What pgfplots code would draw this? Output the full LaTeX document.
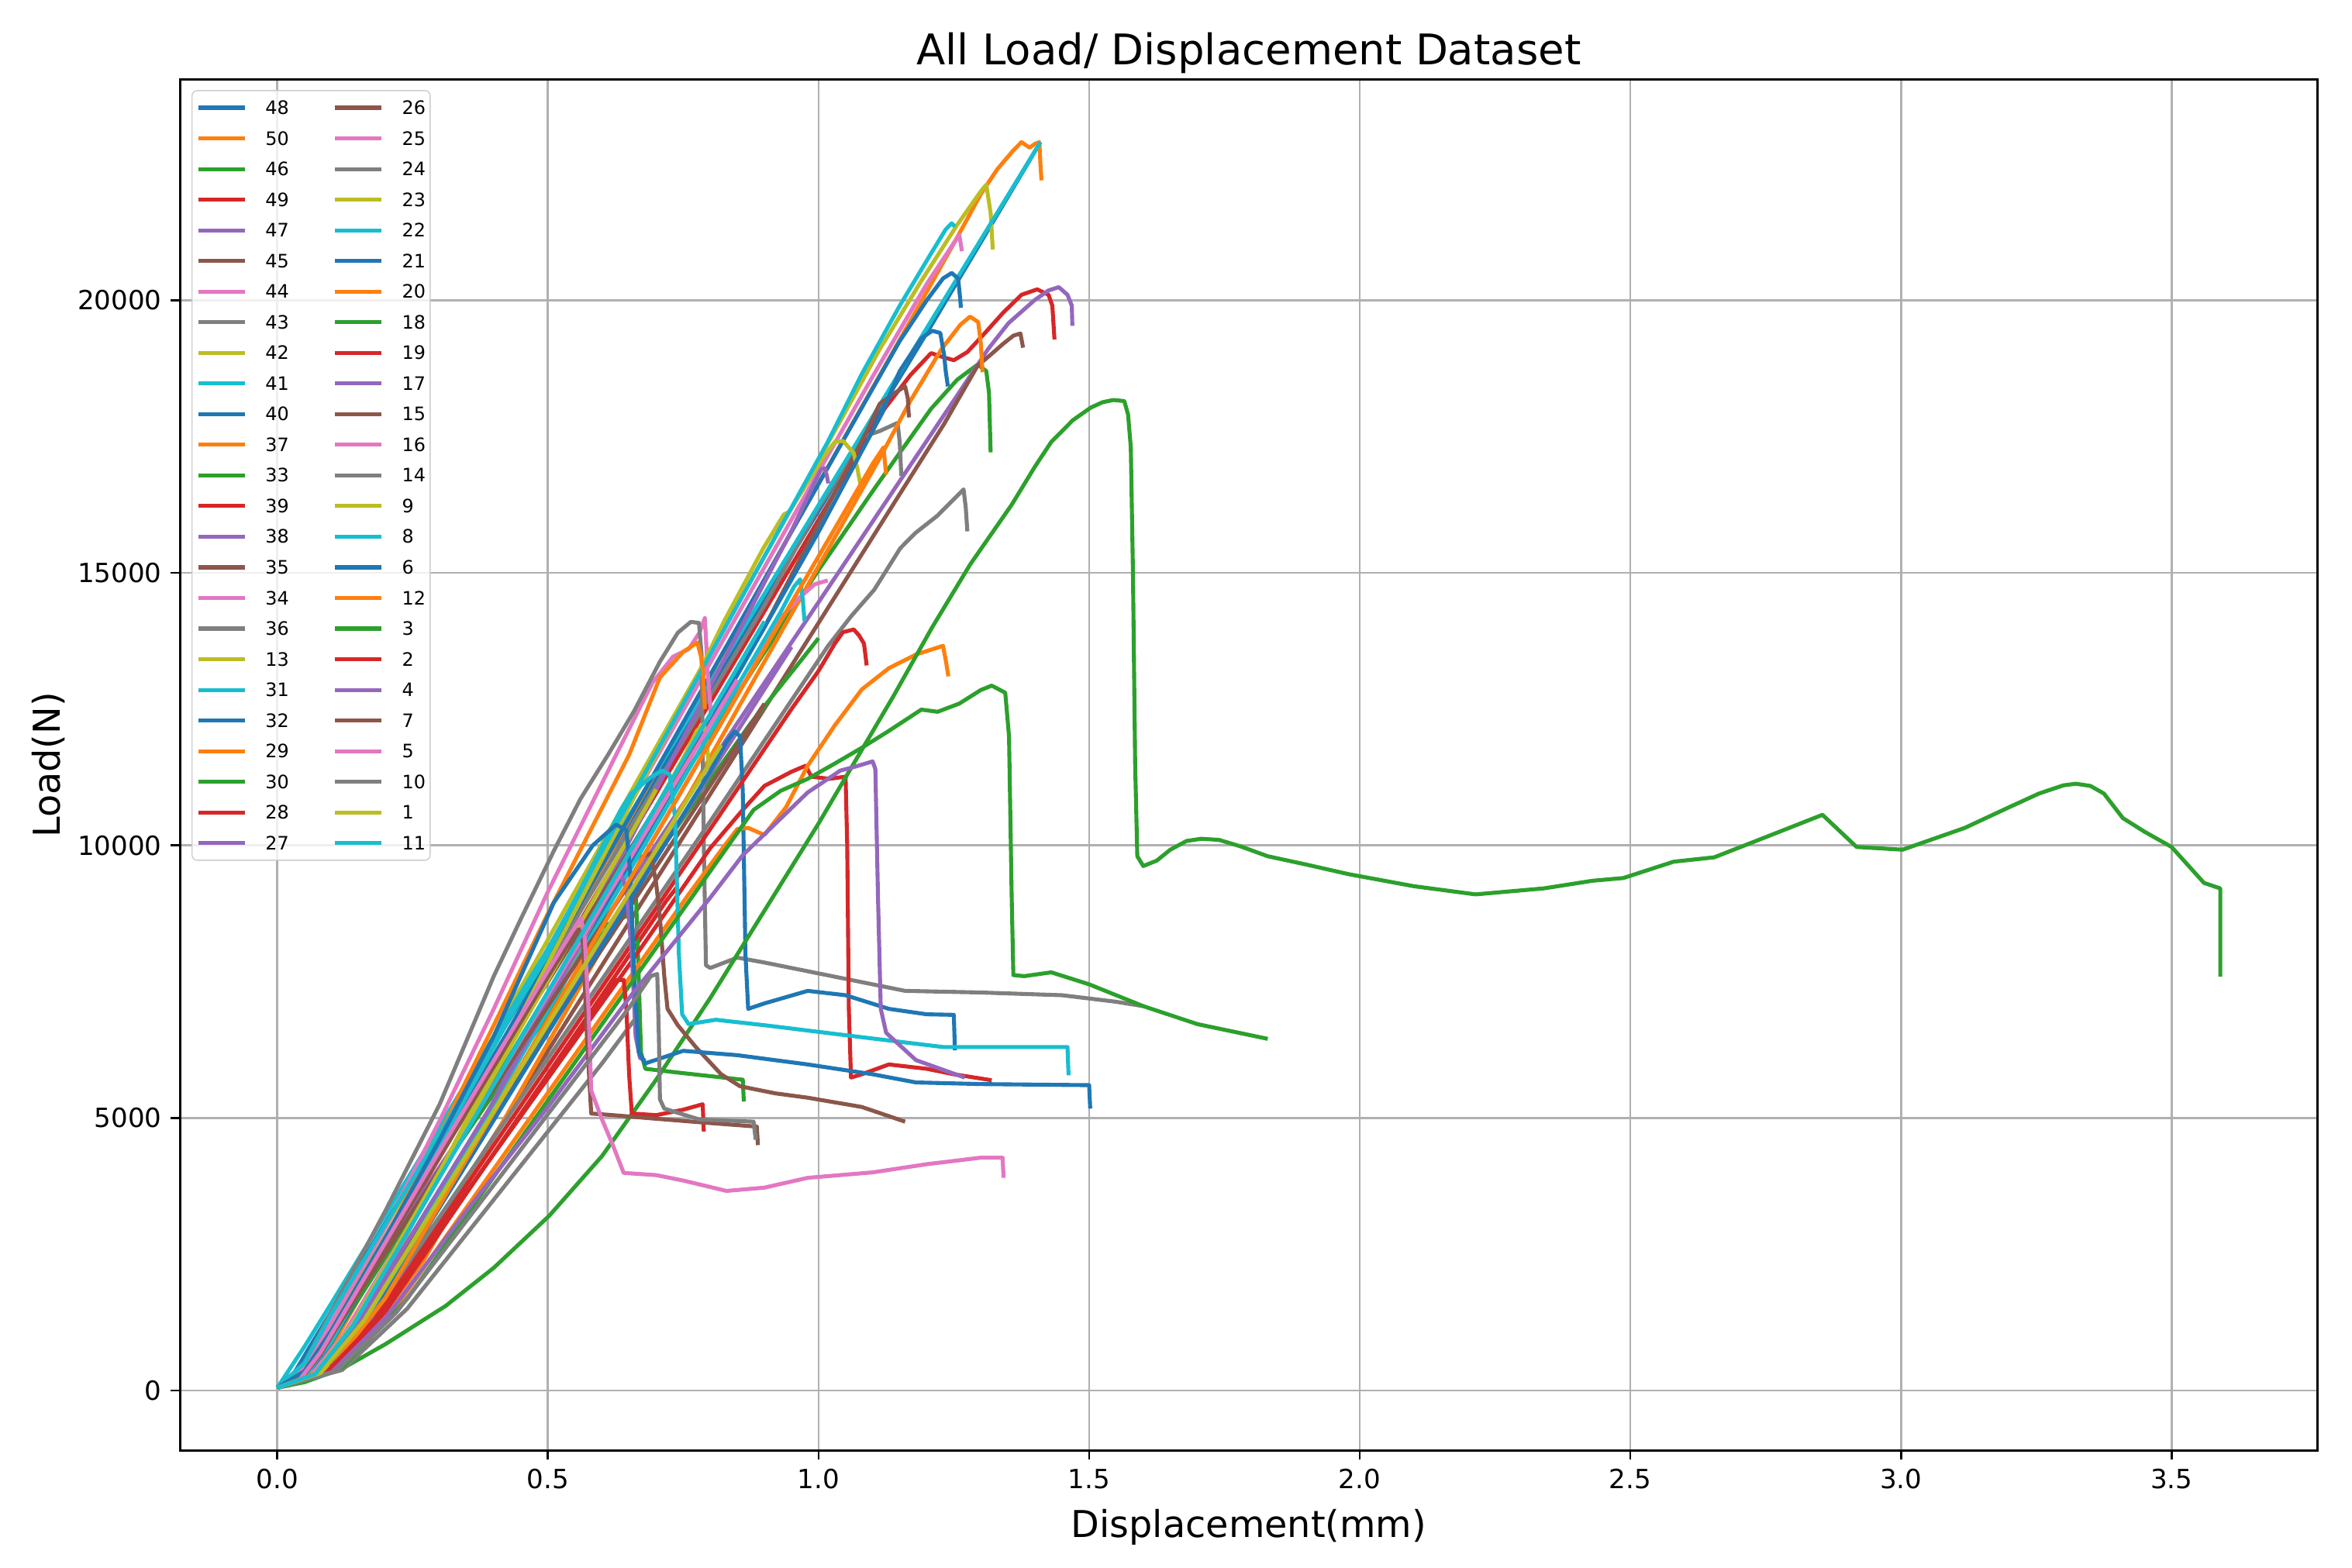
\documentclass[border=0pt]{standalone}
\usepackage{fontspec}
\setmainfont{DejaVu Sans}
\usepackage{pgfplots}
\pgfplotsset{compat=1.18}
\definecolor{tblue}{HTML}{1F77B4}
\definecolor{torange}{HTML}{FF7F0E}
\definecolor{tgreen}{HTML}{2CA02C}
\definecolor{tred}{HTML}{D62728}
\definecolor{tpurple}{HTML}{9467BD}
\definecolor{tbrown}{HTML}{8C564B}
\definecolor{tpink}{HTML}{E377C2}
\definecolor{tgray}{HTML}{7F7F7F}
\definecolor{tolive}{HTML}{BCBD22}
\definecolor{tcyan}{HTML}{17BECF}
\definecolor{gridgray}{HTML}{B0B0B0}
\definecolor{legframe}{HTML}{CCCCCC}
\newcommand{\LE}[2]{\addlegendimage{#1}\addlegendentry{#2}}
\begin{document}
\begin{tikzpicture}
\begin{axis}[
    width=809pt, height=519pt, scale only axis,
    xmin=-0.1795, xmax=3.7695, ymin=-1100, ymax=24050,
    xtick={0,0.5,1,1.5,2,2.5,3,3.5},
    xticklabels={0.0,0.5,1.0,1.5,2.0,2.5,3.0,3.5},
    ytick={0,5000,10000,15000,20000},
    yticklabels={0,5000,10000,15000,20000},
    scaled y ticks=false,
    tick label style={font=\fontsize{10}{12}\selectfont},
    grid=major, grid style={color=gridgray, line width=0.8pt},
    axis line style={line width=0.8pt},
    tick style={line width=0.8pt, black},
    major tick length=3.5pt, tick align=outside, tick pos=left,
    title={All Load/ Displacement Dataset},
    title style={font=\fontsize{16}{19}\selectfont, at={(axis description cs:0.5,1)}, anchor=base, yshift=-0.4pt},
    xlabel={Displacement(mm)},
    xlabel style={font=\fontsize{14}{17}\selectfont, at={(axis description cs:0.5,0)}, anchor=base, yshift=-33pt},
    ylabel={Load(N)},
    ylabel style={font=\fontsize{14}{17}\selectfont, at={(axis description cs:-0.0561,0.5)}, anchor=base},
    every axis plot/.append style={line width=1.5pt, line join=round},
    legend columns=2,
    legend cell align=left,
    legend image code/.code={\draw[#1, line width=1.5pt] (0pt,0pt) -- (17.6pt,0pt);},
    legend style={at={(axis description cs:0,1)}, anchor=north west, xshift=4.3pt, yshift=-4pt,
        font=\fontsize{7}{8}\selectfont, draw=legframe, rounded corners=2pt,
        fill=white, fill opacity=0.8, text opacity=1, draw opacity=1,
        inner xsep=1.7pt, inner ysep=4pt, row sep=6.6pt,
        nodes={inner sep=0pt, text height=5pt, text depth=0pt},
        /tikz/every odd column/.append style={column sep=7pt},
        /tikz/every even column/.append style={column sep=16.7pt}},
]
% 48
\addplot[forget plot, tblue] coordinates {(0,50)(0.03,300)(0.06,800)(0.3,4700)(0.6,9600)(0.9,14500)(1.2,19400)(1.41,22900)};
% 50
\addplot[forget plot, torange] coordinates {(0,50)(0.055,240)(0.11,970)(0.3,4310)(0.5,7830)(0.7,11350)(0.9,14870)(1.065,17780)(1.127,18870)(1.189,19960)(1.256,21150)(1.3,21950)(1.33,22400)(1.36,22750)(1.375,22900)(1.39,22800)(1.4,22870)(1.408,22900)(1.41,22500)(1.412,22200)};
% 46
\addplot[forget plot, tgreen] coordinates {(0,50)(0.05,300)(0.1,900)(0.3,4000)(0.5,7300)(0.7,10500)(0.9,13540)(1.0,15050)(1.103,16540)(1.15,17200)(1.208,18010)(1.256,18540)(1.294,18820)(1.31,18700)(1.315,18300)(1.318,17210)};
% 49
\addplot[forget plot, tred] coordinates {(0,50)(0.044,180)(0.088,735)(0.3,4275)(0.5,7615)(0.7,10955)(0.9,14295)(1.04,16640)(1.122,18010)(1.17,18630)(1.208,19030)(1.232,18950)(1.25,18900)(1.275,19050)(1.303,19350)(1.341,19770)(1.375,20100)(1.404,20200)(1.425,20100)(1.432,19900)(1.436,19280)};
% 47
\addplot[forget plot, tpurple] coordinates {(0,50)(0.025,100)(0.05,370)(0.3,4100)(0.5,7060)(0.7,10020)(0.9,12980)(1.1,15940)(1.16,16830)(1.208,17540)(1.256,18250)(1.313,19100)(1.351,19580)(1.399,20000)(1.425,20180)(1.444,20240)(1.46,20100)(1.468,19900)(1.469,19530)};
% 45
\addplot[forget plot, tbrown] coordinates {(0,50)(0.1,400)(0.2,1570)(0.4,4660)(0.6,7800)(0.8,10940)(1.0,14080)(1.16,16600)(1.232,17730)(1.294,18800)(1.318,19000)(1.341,19200)(1.36,19350)(1.373,19390)(1.378,19130)};
% 44
\addplot[forget plot, tpink] coordinates {(0,50)(0.04,200)(0.08,700)(0.3,4600)(0.5,8100)(0.7,11600)(0.9,15100)(1.1,18600)(1.2,20300)(1.26,21200)(1.265,20900)};
% 43
\addplot[forget plot, tgray] coordinates {(0,50)(0.05,300)(0.1,1150)(0.3,4500)(0.5,7800)(0.7,11100)(0.9,14400)(1.0,16200)(1.04,16800)(1.065,17200)(1.084,17500)(1.113,17600)(1.146,17750)(1.15,17400)(1.153,16780)};
% 42
\addplot[forget plot, tolive] coordinates {(0,50)(0.03,130)(0.06,530)(0.3,4750)(0.5,8270)(0.7,11800)(0.9,15300)(1.04,17780)(1.113,19100)(1.189,20340)(1.256,21380)(1.3,22000)(1.31,22120)(1.318,21600)(1.322,20930)};
% 41
\addplot[forget plot, tcyan] coordinates {(0,50)(0.05,800)(0.1,1600)(0.5,8100)(1.0,16240)(1.41,22900)};
% 40
\addplot[forget plot, tblue] coordinates {(0,50)(0.05,220)(0.1,880)(0.3,4380)(0.5,7880)(0.7,11380)(0.9,14880)(1.1,18380)(1.15,19250)(1.2,20000)(1.23,20400)(1.246,20500)(1.258,20400)(1.262,20000)(1.263,19860)};
% 37
\addplot[forget plot, torange] coordinates {(0,50)(0.136,600)(0.27,2380)(0.5,6370)(0.7,9870)(0.9,13370)(1.113,17100)(1.17,18160)(1.227,19100)(1.262,19550)(1.28,19700)(1.295,19600)(1.3,19200)(1.303,18680)};
% 33
\addplot[forget plot, tgreen] coordinates {(0,50)(0.05,300)(0.1,1000)(0.3,4000)(0.5,6900)(0.7,9800)(0.874,12230)(0.969,13410)(1.0,13800)};
% 39
\addplot[forget plot, tred] coordinates {(0,50)(0.1,360)(0.2,1450)(0.4,4350)(0.6,7250)(0.72,9000)(0.74,9250)};
% 38
\addplot[forget plot, tpurple] coordinates {(0,50)(0.12,570)(0.24,2280)(0.4,5320)(0.6,9120)(0.8,12920)(0.95,15770)(0.99,16600)(1.005,16900)(1.012,16920)(1.016,16750)(1.018,16640)};
% 35
\addplot[forget plot, tbrown] coordinates {(0,50)(0.06,400)(0.12,1400)(0.3,4300)(0.5,7500)(0.7,10700)(0.9,14000)(1.0,15900)(1.089,17590)(1.113,18100)(1.141,18300)(1.16,18420)(1.165,18200)(1.167,17850)};
% 34
\addplot[forget plot, tpink] coordinates {(0,50)(0.05,400)(0.1,1250)(0.2,3000)(0.3,4950)(0.4,7000)(0.5,9150)(0.626,11660)(0.693,12980)(0.731,13460)(0.76,13600)(0.78,13900)(0.79,14170)(0.792,13800)(0.795,13200)(0.802,12300)};
% 36
\addplot[forget plot, tgray] coordinates {(0,50)(0.05,500)(0.1,1450)(0.2,3300)(0.3,5250)(0.4,7600)(0.45,8650)(0.511,9900)(0.56,10850)(0.611,11660)(0.659,12460)(0.707,13370)(0.74,13900)(0.764,14100)(0.779,14080)(0.784,13500)(0.788,10000)(0.792,7800)(0.8,7750)(0.85,7940)(0.9,7850)(1.0,7650)(1.16,7330)(1.3,7300)(1.45,7250)(1.55,7130)(1.6,7050)};
% 13
\addplot[forget plot, tolive] coordinates {(0,50)(0.09,430)(0.18,1720)(0.4,5920)(0.6,9750)(0.779,13170)(0.826,14120)(0.898,15450)(0.936,16070)(0.946,16120)(0.97,16500)(1.008,17110)(1.03,17400)(1.045,17420)(1.065,17200)(1.072,16900)(1.077,16640)};
% 31
\addplot[forget plot, tcyan] coordinates {(0,50)(0.05,250)(0.1,900)(0.3,4500)(0.5,8100)(0.7,11700)(0.9,15300)(1.017,17400)(1.079,18630)(1.15,19900)(1.208,20860)(1.235,21300)(1.246,21410)(1.252,21350)};
% 32
\addplot[forget plot, tblue] coordinates {(0,50)(0.1,440)(0.2,1750)(0.4,5250)(0.6,8750)(0.8,12250)(1.0,15750)(1.116,17900)(1.15,18700)(1.19,19300)(1.21,19440)(1.225,19400)(1.232,19000)(1.235,18700)(1.239,18420)};
% 29
\addplot[forget plot, torange] coordinates {(0,50)(0.05,350)(0.1,1100)(0.2,2800)(0.3,4700)(0.4,6700)(0.5,8750)(0.65,11660)(0.707,13080)(0.75,13550)(0.776,13720)(0.782,13500)(0.786,13270)(0.79,12500)};
% 30
\addplot[forget plot, tgreen] coordinates {(0,50)(0.08,300)(0.16,1200)(0.4,5000)(0.55,7600)(0.6,8500)(0.626,8620)(0.645,8700)(0.655,9200)(0.663,9000)(0.668,7500)(0.672,6200)(0.68,5900)(0.75,5820)(0.86,5700)(0.862,5300)};
% 28
\addplot[forget plot, tred] coordinates {(0,50)(0.09,310)(0.18,1260)(0.4,4340)(0.654,7860)(0.8,9950)(0.86,10650)(0.9,11090)(0.95,11350)(0.976,11460)(0.987,11260)(1.02,11220)(1.05,11260)(1.053,10000)(1.056,7000)(1.06,5740)(1.08,5800)(1.13,5980)(1.2,5900)(1.25,5800)(1.32,5690)};
% 27
\addplot[forget plot, tpurple] coordinates {(0,50)(0.07,270)(0.14,1085)(0.4,5115)(0.6,8215)(0.8,11315)(0.95,13640)};
% 26
\addplot[forget plot, tbrown] coordinates {(0,50)(0.06,225)(0.12,900)(0.4,5100)(0.6,8100)(0.8,11100)(0.9,12600)};
% 25
\addplot[forget plot, tpink] coordinates {(0,50)(0.1,430)(0.2,1700)(0.4,5100)(0.6,8500)(0.8,11900)(0.874,13170)(0.922,14080)(0.96,14500)(0.993,14790)(1.017,14860)};
% 24
\addplot[forget plot, tgray] coordinates {(0,50)(0.08,290)(0.16,1160)(0.4,4640)(0.6,7540)(0.8,10440)(0.969,12940)(1.017,13650)(1.06,14200)(1.103,14690)(1.151,15450)(1.179,15730)(1.22,16050)(1.25,16350)(1.268,16530)(1.272,16200)(1.275,15760)};
% 23
\addplot[forget plot, tolive] coordinates {(0,50)(0.09,370)(0.18,1480)(0.4,5200)(0.6,8900)(0.75,11600)(0.775,12100)(0.788,12230)(0.793,12000)(0.797,11460)};
% 22
\addplot[forget plot, tcyan] coordinates {(0,50)(0.09,380)(0.18,1530)(0.4,5270)(0.6,8670)(0.8,12070)(0.93,14280)(0.955,14750)(0.966,14880)(0.971,14500)(0.974,14120)};
% 21
\addplot[forget plot, tblue] coordinates {(0,50)(0.09,360)(0.18,1440)(0.4,4960)(0.6,8160)(0.8,11360)(0.83,11900)(0.845,12090)(0.855,12000)(0.86,11000)(0.865,8000)(0.87,7000)(0.9,7100)(0.98,7330)(1.05,7250)(1.13,7000)(1.2,6900)(1.25,6890)(1.252,6240)};
% 20
\addplot[forget plot, torange] coordinates {(0,50)(0.11,390)(0.22,1540)(0.45,4760)(0.65,7560)(0.76,9100)(0.82,9910)(0.85,10300)(0.87,10320)(0.9,10190)(0.94,10700)(0.98,11460)(1.03,12200)(1.08,12860)(1.13,13250)(1.18,13500)(1.23,13660)(1.235,13400)(1.24,13100)};
% 18
\addplot[forget plot, tgreen] coordinates {(0,50)(0.05,150)(0.12,400)(0.2,850)(0.311,1550)(0.4,2250)(0.502,3200)(0.6,4300)(0.7,5700)(0.8,7200)(0.9,8800)(1.0,10400)(1.065,11500)(1.138,12730)(1.21,14000)(1.28,15150)(1.357,16250)(1.4,16950)(1.43,17400)(1.47,17800)(1.503,18030)(1.525,18130)(1.545,18170)(1.565,18150)(1.572,17900)(1.577,17300)(1.581,15000)(1.585,11500)(1.589,9800)(1.6,9620)(1.625,9720)(1.65,9920)(1.68,10080)(1.707,10120)(1.74,10100)(1.78,9980)(1.83,9800)(1.9,9650)(1.98,9470)(2.1,9250)(2.214,9100)(2.34,9210)(2.43,9350)(2.487,9400)(2.58,9700)(2.655,9780)(2.75,10150)(2.855,10560)(2.918,9970)(3.003,9920)(3.118,10320)(3.2,10700)(3.255,10950)(3.3,11100)(3.323,11130)(3.35,11090)(3.375,10950)(3.41,10500)(3.45,10250)(3.5,9970)(3.56,9310)(3.59,9210)(3.59,7590)};
% 19
\addplot[forget plot, tred] coordinates {(0,50)(0.09,330)(0.18,1300)(0.4,4500)(0.6,7400)(0.8,10300)(0.95,12500)(1.0,13200)(1.03,13700)(1.045,13910)(1.065,13960)(1.075,13850)(1.084,13700)(1.089,13300)};
% 17
\addplot[forget plot, tpurple] coordinates {(0,50)(0.07,280)(0.14,1120)(0.4,5300)(0.6,8900)(0.635,9470)(0.645,9200)(0.655,8000)(0.662,6500)(0.67,6100)(0.68,6050)};
% 15
\addplot[forget plot, tbrown] coordinates {(0,50)(0.04,200)(0.08,700)(0.3,4050)(0.5,7050)(0.65,9300)(0.675,9800)(0.69,9850)(0.7,9300)(0.707,8670)(0.715,7600)(0.721,7000)(0.74,6700)(0.774,6290)(0.82,5800)(0.855,5580)(0.92,5450)(0.98,5370)(1.08,5200)(1.16,4930)};
% 16
\addplot[forget plot, tpink] coordinates {(0,50)(0.06,250)(0.12,990)(0.4,5610)(0.6,8910)(0.85,13040)};
% 14
\addplot[forget plot, tgray] coordinates {(0,50)(0.12,375)(0.24,1500)(0.4,3500)(0.5,4750)(0.6,6000)(0.66,6800)};
% 9
\addplot[forget plot, tolive] coordinates {(0,50)(0.07,306)(0.14,1225)(0.4,5775)(0.6,9275)(0.7,11025)};
% 8
\addplot[forget plot, tcyan] coordinates {(0,50)(0.05,500)(0.1,1400)(0.3,4700)(0.5,8000)(0.635,10660)(0.654,10950)(0.69,11250)(0.711,11370)(0.725,11300)(0.735,10500)(0.742,8000)(0.748,6900)(0.76,6720)(0.81,6800)(0.9,6700)(1.08,6480)(1.23,6300)(1.35,6300)(1.46,6300)(1.462,5780)};
% 6
\addplot[forget plot, tblue] coordinates {(0,50)(0.05,350)(0.1,1100)(0.2,2800)(0.3,4600)(0.4,6500)(0.511,8950)(0.583,10000)(0.626,10380)(0.645,10280)(0.652,9500)(0.66,7500)(0.668,6200)(0.68,6000)(0.75,6230)(0.85,6150)(0.98,5980)(1.1,5800)(1.18,5650)(1.3,5620)(1.5,5600)(1.502,5170)};
% 12
\addplot[forget plot, torange] coordinates {(0,50)(0.1,425)(0.2,1700)(0.4,5100)(0.6,8500)(0.8,11900)(1.0,15300)(1.1,17000)(1.12,17300)(1.125,16800)};
% 3
\addplot[forget plot, tgreen] coordinates {(0,50)(0.12,420)(0.24,1680)(0.45,4620)(0.65,7420)(0.88,10650)(0.93,11000)(0.98,11220)(1.03,11500)(1.08,11790)(1.13,12100)(1.19,12490)(1.22,12450)(1.26,12600)(1.3,12850)(1.32,12930)(1.345,12800)(1.352,12000)(1.357,9000)(1.36,7620)(1.38,7600)(1.43,7670)(1.5,7450)(1.6,7050)(1.7,6720)(1.83,6450)};
% 2
\addplot[forget plot, tred] coordinates {(0,50)(0.09,320)(0.18,1260)(0.4,4340)(0.6,7140)(0.626,7530)(0.64,7530)(0.645,7000)(0.65,5800)(0.655,5080)(0.7,5050)(0.75,5150)(0.786,5250)(0.788,4750)};
% 4
\addplot[forget plot, tpurple] coordinates {(0,50)(0.1,330)(0.2,1330)(0.35,3300)(0.5,5200)(0.654,7250)(0.8,9040)(0.86,9820)(0.98,10970)(1.04,11370)(1.07,11450)(1.1,11540)(1.105,11400)(1.11,9000)(1.115,7000)(1.125,6560)(1.18,6060)(1.27,5740)};
% 7
\addplot[forget plot, tbrown] coordinates {(0,50)(0.04,170)(0.08,660)(0.3,4290)(0.5,7590)(0.545,8300)(0.557,8460)(0.565,8200)(0.572,6500)(0.58,5080)(0.62,5050)(0.68,5000)(0.78,4920)(0.886,4840)(0.888,4500)};
% 5
\addplot[forget plot, tpink] coordinates {(0,50)(0.04,180)(0.08,700)(0.3,4400)(0.5,7700)(0.55,8500)(0.561,8670)(0.568,8300)(0.575,7000)(0.58,5500)(0.6,4970)(0.62,4500)(0.64,3990)(0.7,3950)(0.75,3850)(0.83,3660)(0.9,3720)(0.98,3900)(1.1,4000)(1.2,4150)(1.3,4270)(1.34,4270)(1.342,3900)};
% 10
\addplot[forget plot, tgray] coordinates {(0,50)(0.11,360)(0.22,1430)(0.45,4420)(0.65,7020)(0.69,7600)(0.702,7640)(0.705,6500)(0.707,5340)(0.715,5170)(0.78,4970)(0.88,4930)(0.884,4600)};
% 1
\addplot[forget plot, tolive] coordinates {(0,50)(0.08,320)(0.16,1280)(0.4,5120)(0.6,8320)(0.82,11840)};
% 11
\addplot[forget plot, tcyan] coordinates {(0,50)(0.07,300)(0.14,1190)(0.4,5610)(0.6,9010)(0.9,14110)};
% legend, filled column by column as in the original
\LE{tblue}{48}\LE{tbrown}{26}
\LE{torange}{50}\LE{tpink}{25}
\LE{tgreen}{46}\LE{tgray}{24}
\LE{tred}{49}\LE{tolive}{23}
\LE{tpurple}{47}\LE{tcyan}{22}
\LE{tbrown}{45}\LE{tblue}{21}
\LE{tpink}{44}\LE{torange}{20}
\LE{tgray}{43}\LE{tgreen}{18}
\LE{tolive}{42}\LE{tred}{19}
\LE{tcyan}{41}\LE{tpurple}{17}
\LE{tblue}{40}\LE{tbrown}{15}
\LE{torange}{37}\LE{tpink}{16}
\LE{tgreen}{33}\LE{tgray}{14}
\LE{tred}{39}\LE{tolive}{9}
\LE{tpurple}{38}\LE{tcyan}{8}
\LE{tbrown}{35}\LE{tblue}{6}
\LE{tpink}{34}\LE{torange}{12}
\LE{tgray}{36}\LE{tgreen}{3}
\LE{tolive}{13}\LE{tred}{2}
\LE{tcyan}{31}\LE{tpurple}{4}
\LE{tblue}{32}\LE{tbrown}{7}
\LE{torange}{29}\LE{tpink}{5}
\LE{tgreen}{30}\LE{tgray}{10}
\LE{tred}{28}\LE{tolive}{1}
\LE{tpurple}{27}\LE{tcyan}{11}
\end{axis}
\pgfresetboundingbox
\path (-68.2pt,-44.3pt) rectangle (822.1pt,549.1pt);
\end{tikzpicture}
\end{document}
